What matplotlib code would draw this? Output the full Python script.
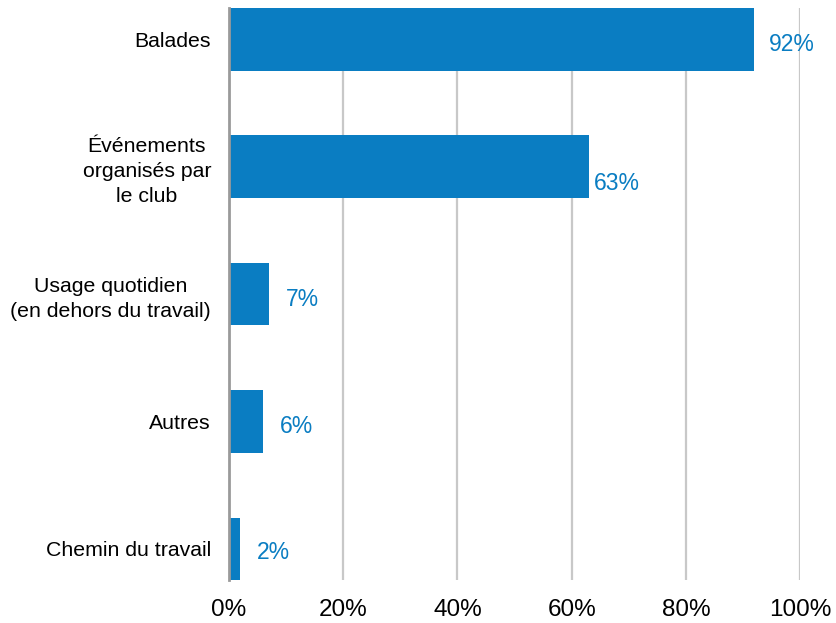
import matplotlib.pyplot as plt

plt.rcParams['font.family'] = ['Liberation Sans', 'DejaVu Sans']

categories = ['Balades', 'Événements\norganisés par\nle club', 'Usage quotidien\n(en dehors du travail)',
              'Autres', 'Chemin du travail']
values = [92, 63, 7, 6, 2]
# label nudges (pixels): x offset, y offset
label_dx = [15, 5, 17, 17, 16]
label_dy = [-5, -17, -5, -5, -4]

blue = '#0A7DC2'

fig = plt.figure(figsize=(8.36, 6.23), dpi=100)
ax = fig.add_axes([0.274, 0.069, 0.683, 0.918])

pos = range(len(categories))
ax.barh(pos, values, height=0.49, color=blue, zorder=3)
for i, v in enumerate(values):
    ax.annotate(f'{v}%', (v, i), xytext=(label_dx[i], label_dy[i]), textcoords='offset pixels',
                va='center', ha='left', color=blue, fontsize=16.5)

ax.set_xlim(0, 100)
ax.set_ylim(len(categories) - 1 + 0.245, -0.245)
ax.set_yticks(list(pos))
ax.set_yticklabels(categories, fontsize=15.3, multialignment='center', linespacing=1.38)
ax.set_xticks(range(0, 101, 20))
ax.set_xticklabels([f'{t}%' for t in range(0, 101, 20)], fontsize=17.5)
ax.tick_params(length=0)
ax.tick_params(axis='y', pad=13)
ax.tick_params(axis='x', pad=14)

for x in range(20, 101, 20):
    ax.axvline(x, color='#c8c8c8', lw=1.6, zorder=1)
for s in ['top', 'right', 'bottom']:
    ax.spines[s].set_visible(False)
ax.spines['left'].set_color('#9a9a9a')
ax.spines['left'].set_linewidth(2)
ax.spines['left'].set_zorder(4)

plt.savefig('out.png', dpi=100)
